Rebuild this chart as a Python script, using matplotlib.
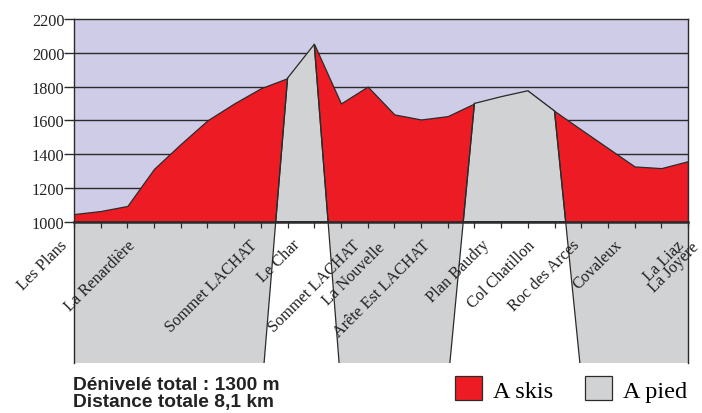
import numpy as np
import matplotlib
matplotlib.use('Agg')
import matplotlib.pyplot as plt

# Altitude (m) at each step of the route
altitudes = [1045, 1063, 1093, 1313, 1460, 1600, 1700, 1790, 1850, 2050,
             1700, 1800, 1635, 1605, 1625, 1700, 1740, 1775, 1655, 1545,
             1436, 1327, 1317, 1358]

# Walking sections: first / last step, and where the dividing lines reach the band bottom
pied_start = [8, 15]
pied_end = [9, 18]
pied_foot_left = [7.12, 14.08]
pied_foot_right = [9.93, 18.95]

# Place names along the route
place_names = ['Les Plans', 'La Renardière', 'Sommet LACHAT', 'Le Char', 'Sommet LACHAT',
               'La Nouvelle', 'Arête Est LACHAT', 'Plan Baudry', 'Col Chatillon',
               'Roc des Arces', 'Covaleux', 'La Liaz', 'La Joyère']
place_pos = [-0.34, 2.21, 6.78, 8.39, 10.64, 11.57, 13.26, 15.47, 17.19, 18.84, 20.45, 22.77, 23.3]
place_row = [0, 0, 0, 0, 0, 1, 0, 0, 0, 0, 0, 0, 1]   # 1 = second line of a stacked label

y_ticks = [1000, 1200, 1400, 1600, 1800, 2000, 2200]
summary = ['Dénivelé total : 1300 m', 'Distance totale 8,1 km']

RED = '#ED1C24'
GREY = '#D1D2D4'
LAVENDER = '#CECCE6'
EDGE = '#2B2B2B'
base, band_bottom, top = 1000, 163, 2200

plt.rcParams['font.family'] = ['Liberation Serif', 'DejaVu Serif']

fig = plt.figure(figsize=(7.02, 4.14), dpi=100)
ax = fig.add_axes([74 / 702, 50 / 414, 614 / 702, 344 / 414])
ax.set_facecolor(LAVENDER)

x = np.arange(len(altitudes))
ax.set_xlim(x[0], x[-1])
ax.set_ylim(band_bottom, top)

# horizontal grid in the lavender part
for yv in y_ticks[1:-1]:
    ax.axhline(yv, color=EDGE, lw=1.0, zorder=0.5)

# grey band under the profile
ax.axhspan(band_bottom, base, facecolor=GREY, edgecolor='none', zorder=1)

# ski sections (whole profile, walking parts painted over)
ax.fill_between(x, base, altitudes, facecolor=RED, edgecolor=EDGE, lw=0.9,
                zorder=2, label='A skis')

alt = np.array(altitudes, dtype=float)
for k, (s, e, fl, fr) in enumerate(zip(pied_start, pied_end, pied_foot_left, pied_foot_right)):
    xl = fl + (x[s] - fl) * (base - band_bottom) / (alt[s] - band_bottom)
    xr = fr + (x[e] - fr) * (base - band_bottom) / (alt[e] - band_bottom)
    px = [xl] + list(x[s:e + 1]) + [xr]
    py = [base] + list(alt[s:e + 1]) + [base]
    ax.fill(px, py, facecolor=GREY, edgecolor=EDGE, lw=0.9, zorder=3,
            label='A pied' if k == 0 else None)
    ax.fill([xl, fl, fr, xr], [base, band_bottom, band_bottom, base],
            facecolor='white', edgecolor='none', zorder=1.5)
    ax.plot([fl, x[s]], [band_bottom, alt[s]], color=EDGE, lw=0.9, zorder=3.5)
    ax.plot([fr, x[e]], [band_bottom, alt[e]], color=EDGE, lw=0.9, zorder=3.5)

# axes styling
for side in ['left', 'right', 'top']:
    ax.spines[side].set_color(EDGE)
    ax.spines[side].set_linewidth(1.0)
ax.spines['bottom'].set_position(('data', base))
ax.spines['bottom'].set_color(EDGE)
ax.spines['bottom'].set_linewidth(1.8)
ax.spines['bottom'].set_zorder(5)

ax.set_yticks(y_ticks)
ax.set_yticklabels([str(v) for v in y_ticks], fontsize=11.7, color='#222222')
ax.tick_params(axis='y', direction='out', length=7, width=1.0, color=EDGE, pad=0)
ax.set_xticks(x)
ax.set_xticklabels([])
ax.tick_params(axis='x', direction='out', length=4, width=0.9, color=EDGE)

# place names, rotated
for name, pos, row in zip(place_names, place_pos, place_row):
    yy = 878 - 12 * row
    ax.text(pos, yy, name, rotation=45, rotation_mode='anchor', ha='right', va='center',
            fontsize=11.7, color='#222222', zorder=6, clip_on=False)

# summary text
fig.text(73 / 702, 1 - 390 / 414, summary[0], family='Liberation Sans', fontweight='bold',
         fontsize=13.8, color='#222222', va='baseline')
fig.text(73 / 702, 1 - 407 / 414, summary[1], family='Liberation Sans', fontweight='bold',
         fontsize=13.8, color='#222222', va='baseline')

fig.legend(loc='center left', bbox_to_anchor=(455 / 702, 1 - 390 / 414), ncol=2,
           frameon=False, fontsize=17.5, handlelength=1.12, handleheight=1.12,
           handletextpad=0.45, columnspacing=1.3, borderpad=0, borderaxespad=0)

fig.savefig('out.png', dpi=100, facecolor='white')
